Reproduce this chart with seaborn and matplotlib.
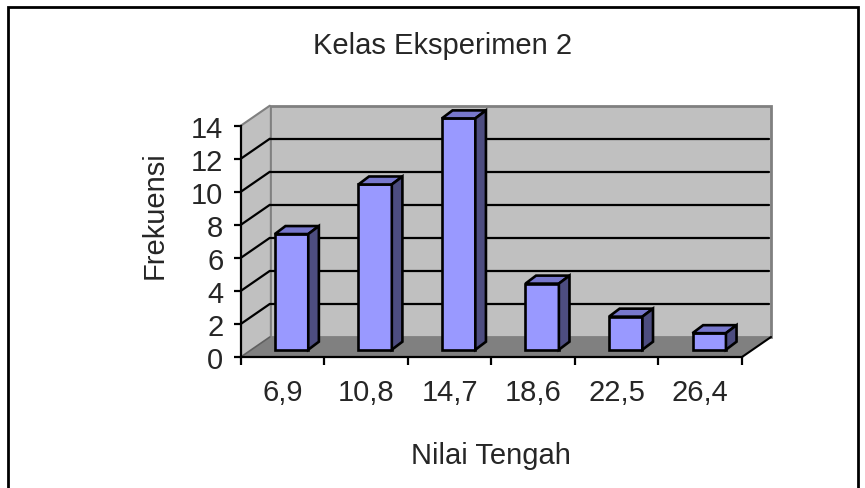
import matplotlib
matplotlib.use('Agg')
import matplotlib.pyplot as plt
import seaborn as sns
from matplotlib.patches import Polygon, Rectangle

# data
nilai_tengah = ['6,9', '10,8', '14,7', '18,6', '22,5', '26,4']
frekuensi = [7, 10, 14, 4, 2, 1]
y_ticks = [0, 2, 4, 6, 8, 10, 12, 14]

sns.set_theme(style='white')
plt.rcParams['font.family'] = ['Liberation Sans', 'DejaVu Sans']

W, H = 865, 489
fig = plt.figure(figsize=(W / 100, H / 100), dpi=100)
fig.patch.set_facecolor('white')

# front plane of the 3d box in pixels
x_left, x_right, y_bot, y_top = 240.8, 742.0, 358.0, 126.7
ax = fig.add_axes([x_left / W, 1 - y_bot / H, (x_right - x_left) / W, (y_bot - y_top) / H])
ax.set_facecolor('none')

# depth offsets in data units
px_x = (x_right - x_left) / 6
px_y = (y_bot - y_top) / 14
wall_dx, wall_dy = 29 / px_x, 20 / px_y
bar_fx, bar_fy = 9 / px_x, 7.3 / px_y
bar_dx, bar_dy = 10.6 / px_x, 8 / px_y

wall_col = '#c0c0c0'
floor_col = '#808080'
edge_gray = '#808080'
fs = 21

# back wall
ax.add_patch(Rectangle((-0.5 + wall_dx, wall_dy), 6, 14, fc=wall_col, ec=edge_gray,
                       lw=2, zorder=0.5, clip_on=False))
# left wall
ax.add_patch(Polygon([(-0.5, 0), (-0.5, 14), (-0.5 + wall_dx, 14 + wall_dy), (-0.5 + wall_dx, wall_dy)],
                     closed=True, fc=wall_col, ec='none', zorder=0.6, clip_on=False))
# floor
ax.add_patch(Polygon([(-0.5, 0), (5.5, 0), (5.5 + wall_dx, wall_dy), (-0.5 + wall_dx, wall_dy)],
                     closed=True, fc=floor_col, ec='none', zorder=0.7, clip_on=False))
ax.plot([5.5, 5.5 + wall_dx], [0, wall_dy], color='black', lw=1.5, zorder=0.8, clip_on=False)
ax.plot([-0.5, -0.5 + wall_dx], [0, wall_dy], color='#606060', lw=1.2, zorder=0.8, clip_on=False)

# gridlines on the walls
for v in y_ticks[1:-1]:
    ax.plot([-0.5 + wall_dx, 5.5 + wall_dx - 0.02], [v + wall_dy, v + wall_dy], color='black', lw=1.6,
            zorder=1, clip_on=False)
    ax.plot([-0.5, -0.5 + wall_dx], [v, v + wall_dy], color='black', lw=1.6, zorder=1, clip_on=False)
ax.plot([-0.5, -0.5 + wall_dx], [14, 14 + wall_dy], color=edge_gray, lw=1.5, zorder=1, clip_on=False)

# front faces of the bars
sns.barplot(x=nilai_tengah, y=frekuensi, width=0.4, color='#9999ff', saturation=1,
            edgecolor='black', linewidth=1.9, ax=ax, zorder=3)

for p in ax.patches:
    if not isinstance(p, Rectangle) or abs(p.get_width() - 0.4) > 1e-6:
        continue
    p.set_x(p.get_x() + bar_fx)
    p.set_y(bar_fy)
    p.set_clip_on(False)
    x0, w, h = p.get_x(), p.get_width(), p.get_height()
    y0 = bar_fy
    top = [(x0, y0 + h), (x0 + w, y0 + h), (x0 + w + bar_dx, y0 + h + bar_dy), (x0 + bar_dx, y0 + h + bar_dy)]
    side = [(x0 + w, y0), (x0 + w, y0 + h), (x0 + w + bar_dx, y0 + h + bar_dy), (x0 + w + bar_dx, y0 + bar_dy)]
    ax.add_patch(Polygon(top, closed=True, fc='#7777cc', ec='black', lw=1.9, zorder=3, clip_on=False))
    ax.add_patch(Polygon(side, closed=True, fc='#4d4d80', ec='black', lw=1.9, zorder=3, clip_on=False))

ax.set_xlim(-0.5, 5.5)
ax.set_ylim(0, 14)

for s in ['top', 'right']:
    ax.spines[s].set_visible(False)
for s in ['left', 'bottom']:
    ax.spines[s].set_color('black')
    ax.spines[s].set_linewidth(1.6)
    ax.spines[s].set_zorder(2)

# ticks: marks at category edges, labels at centers
ax.set_xticks([i - 0.5 for i in range(7)])
ax.set_xticklabels([])
ax.set_xticks(range(6), minor=True)
ax.set_xticklabels(nilai_tengah, minor=True, fontsize=fs)
ax.tick_params(axis='x', which='major', bottom=True, length=6, width=1.6, color='black', direction='out')
ax.tick_params(axis='x', which='minor', bottom=True, length=0, pad=15)
ax.set_yticks(y_ticks)
ax.set_yticklabels([str(v) for v in y_ticks], fontsize=fs)
ax.tick_params(axis='y', left=True, length=5, width=1.6, color='black', direction='out', pad=7.5)

ax.set_xlabel('Nilai Tengah', fontsize=fs)
ax.xaxis.set_label_coords(0.5, (y_bot - 456) / (y_bot - y_top))
ax.xaxis.label.set_va('center')
ax.set_ylabel('Frekuensi', fontsize=fs)
ax.yaxis.set_label_coords((155 - x_left) / (x_right - x_left), (y_bot - 215) / (y_bot - y_top))
ax.yaxis.label.set_va('center')

fig.text(443 / W, 1 - 46 / H, 'Kelas Eksperimen 2', fontsize=fs, ha='center', va='center')

# outer chart border (bottom edge falls outside the picture)
fig.patches.append(Rectangle((8 / W, -0.1), 850 / W, 1.1 - 8 / H, transform=fig.transFigure,
                             fill=False, ec='black', lw=2, zorder=10))

fig.savefig('out.png', dpi=100)
